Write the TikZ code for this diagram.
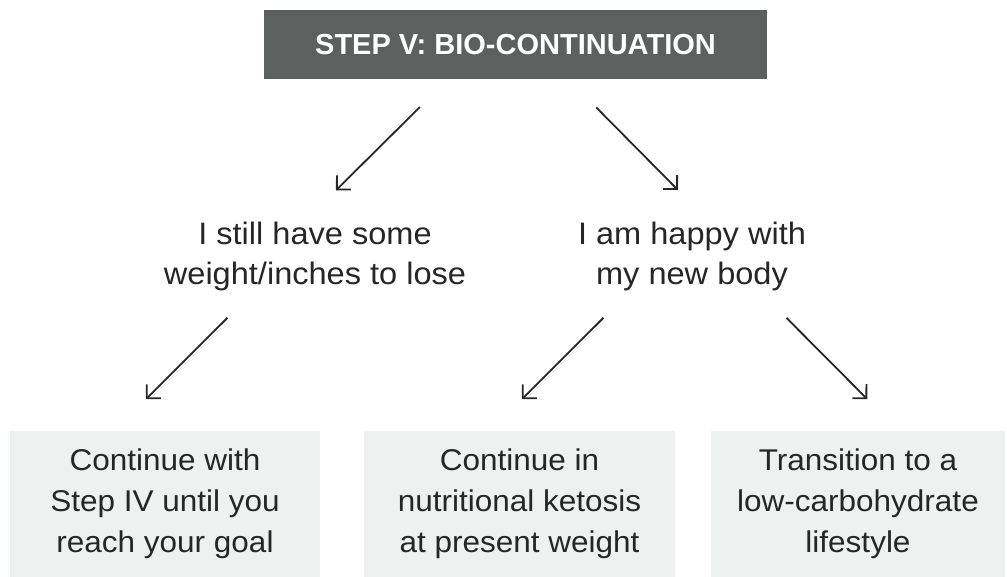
\documentclass[tikz,border=0pt]{standalone}
\usepackage{fontspec}
\setmainfont{Liberation Sans}
\newfontfamily\widesans{Liberation Sans}[FakeStretch=1.05]
\usetikzlibrary{arrows.meta,positioning}
\definecolor{hd}{HTML}{5E5F5F}
\definecolor{bx}{HTML}{EFF0F0}
\definecolor{ink}{HTML}{262626}
\tikzset{
  head/.style={fill=hd, text=white, minimum width=503pt, minimum height=69pt, font=\fontsize{29}{34}\selectfont\bfseries},
  choice/.style={align=center, inner sep=0pt, text=ink, font=\widesans\fontsize{31}{40}\selectfont},
  result/.style={fill=bx, align=center, minimum height=146pt, anchor=north, text=ink, font=\widesans\fontsize{30}{41}\selectfont},
  arr/.style={-{Straight Barb[angle=90:14pt]}, line width=1.8pt, draw=ink, shorten >=45pt},
}

\begin{document}
\begin{tikzpicture}[x=1pt,y=1pt]
  \useasboundingbox (0,0) rectangle (1007,-577);
  \node[head] (title) at (515.5,-44.5) {STEP V: BIO-CONTINUATION};
  \node[choice, anchor=north] (lose) at (315,-222) {I still have some\\weight/inches to lose};
  \node[choice, anchor=north] (happy) at (692,-222) {I am happy with\\my new body};
  \node[result, minimum width=310pt] (keep) at (165,-431) {Continue with\\Step IV until you\\reach your goal};
  \node[result, minimum width=311pt] (keto) at (519.5,-431) {Continue in\\nutritional ketosis\\at present weight};
  \node[result, minimum width=294pt] (lowcarb) at (858,-431) {Transition to a\\low-carbohydrate\\lifestyle};
  % arrows
  \draw[arr, shorten <=39.6pt] ([xshift=-67.5pt]title.south) -- ([xshift=-11pt]lose.north);
  \draw[arr, shorten <=39.6pt] ([xshift=52.8pt]title.south) -- ([xshift=17.6pt]happy.north);
  \draw[arr, shorten <=37.5pt] ([xshift=-61pt]lose.south) -- ([xshift=-51pt]keep.north);
  \draw[arr, shorten <=37.5pt] ([xshift=-62pt]happy.south) -- ([xshift=-29.5pt]keto.north);
  \draw[arr, shorten <=37.5pt] ([xshift=68pt]happy.south) -- ([xshift=41pt]lowcarb.north);
\end{tikzpicture}
\end{document}
